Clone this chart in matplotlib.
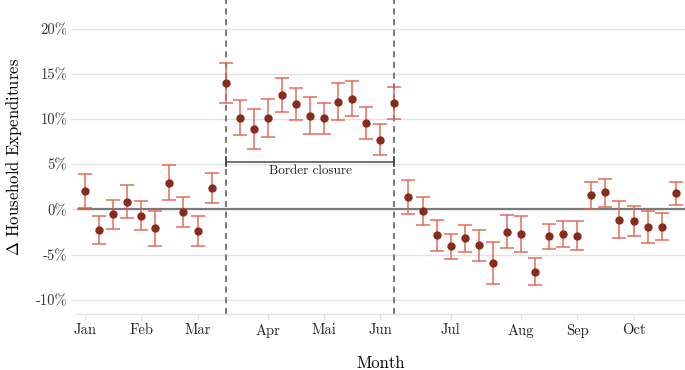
import numpy as np
import matplotlib
matplotlib.use("Agg")
import matplotlib.pyplot as plt

plt.rcParams["font.family"] = "cmr10"
plt.rcParams["mathtext.fontset"] = "cm"
plt.rcParams["axes.formatter.use_mathtext"] = True

# weekly estimates (%), with lower / upper bounds of the interval
est = [2.06, -2.28, -0.55, 0.85, -0.70, -2.10, 2.98, -0.25, -2.39, 2.36,
       13.98, 10.15, 8.87, 10.09, 12.66, 11.67, 10.38, 10.09, 11.92, 12.22,
       9.60, 7.73, 11.81,
       1.40, -0.14, -2.87, -4.04, -3.16, -3.97, -5.88, -2.46, -2.72, -6.88,
       -2.98, -2.68, -2.90, 1.55, 1.88, -1.14, -1.25, -1.91, -1.91, 1.77]
lower = [0.11, -3.82, -2.17, -0.99, -2.28, -4.04, 1.03, -1.99, -4.04, 0.70,
         11.80, 8.28, 6.67, 7.99, 10.75, 9.87, 8.32, 8.32, 9.90, 10.34,
         7.80, 6.04, 10.01,
         -0.51, -1.72, -4.59, -5.44, -4.67, -5.70, -8.20, -4.30, -4.70, -8.35,
         -4.42, -4.12, -4.53, 0.04, 0.26, -3.16, -2.94, -3.68, -3.38, 0.48]
upper = [3.97, -0.77, 1.03, 2.76, 0.89, -0.22, 4.90, 1.43, -0.77, 4.05,
         16.20, 12.07, 11.08, 12.19, 14.57, 13.43, 12.41, 11.81, 13.95, 14.17,
         11.37, 9.43, 13.58,
         3.31, 1.43, -1.17, -2.72, -1.69, -2.28, -3.60, -0.66, -0.77, -5.41,
         -1.55, -1.32, -1.28, 3.09, 3.42, 0.89, 0.44, -0.14, -0.40, 3.09]

month_pos = [0, 4, 8, 13, 17, 21, 26, 31, 35, 39]
month_labels = ["Jan", "Feb", "Mar", "Apr", "Mai", "Jun", "Jul", "Aug", "Sep", "Oct"]
closure_start, closure_end = 10, 22
y_ticks = [-10, -5, 0, 5, 10, 15, 20]

x = np.arange(len(est))
est = np.array(est)
yerr = [est - np.array(lower), np.array(upper) - est]

fig = plt.figure(figsize=(6.85, 3.7), dpi=100)
ax = fig.add_axes([77 / 685, 1 - 314 / 370, 1 - 77 / 685, 314 / 370])

grid_c = "#e3e3e3"
for yt in y_ticks:
    ax.axhline(yt, color=grid_c, lw=1.0, zorder=0)
ax.axhline(0, color="#7a7a7a", lw=1.6, zorder=1)

ax.axvline(closure_start, color="#555555", lw=1.1, ls=(0, (4, 3)), zorder=1)
ax.axvline(closure_end, color="#555555", lw=1.1, ls=(0, (4, 3)), zorder=1)

# bracket for border closure
ax.plot([closure_start, closure_end], [5.3, 5.3], color="#666666", lw=1.3, zorder=2)
ax.plot([closure_start, closure_start], [4.8, 5.8], color="#444444", lw=1.3, zorder=2)
ax.plot([closure_end, closure_end], [4.8, 5.8], color="#444444", lw=1.3, zorder=2)
ax.text((closure_start + closure_end) / 2, 4.25, "Border closure", ha="center",
        va="center", fontsize=9.5, color="#222222")

ax.errorbar(x, est, yerr=yerr, fmt="none", ecolor="#e2604d", elinewidth=1.2,
            capsize=4.7, capthick=1.2, alpha=0.85, zorder=3)
ax.plot(x, est, "o", color="#862c1f", markersize=5, zorder=4)

ax.set_xlim(-0.57, 42.66)
ax.set_ylim(-11.55, 23.15)
ax.set_xticks(month_pos)
ax.set_xticklabels(month_labels, fontsize=10.5, color="#222222")
ax.set_yticks(y_ticks)
ax.set_yticklabels([f"{v}%" for v in y_ticks], fontsize=10.5, color="#333333")
ax.tick_params(axis="both", length=4, width=1, color=grid_c, pad=3)

for s in ["top", "right", "left"]:
    ax.spines[s].set_visible(False)
ax.spines["bottom"].set_color(grid_c)
ax.spines["bottom"].set_linewidth(1.0)

ax.set_xlabel("Month", fontsize=12, labelpad=13)
ax.set_ylabel(r"$\Delta$ Household Expenditures", fontsize=12, labelpad=8)

fig.savefig("out.png", dpi=100)
